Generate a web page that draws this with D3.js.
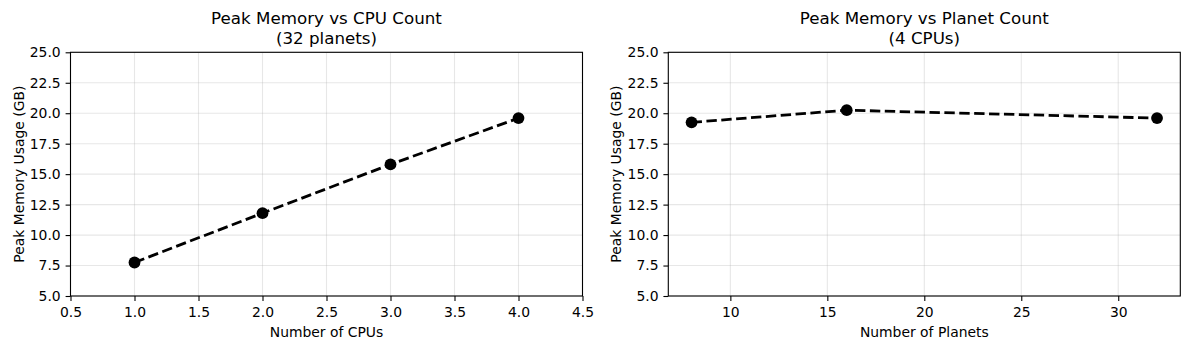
<!DOCTYPE html>
<html>
<head>
<meta charset="utf-8">
<script src="https://cdn.jsdelivr.net/npm/d3@7"></script>
<style>
  body { margin: 0; background: #fff; }
  text { font-family: "DejaVu Sans", sans-serif; fill: #000; }
</style>
</head>
<body>
<div id="canvas"></div>
<script>
"use strict"

// data
let cpuCounts = [1, 2, 3, 4]
let cpuMemory = [7.75, 11.8, 15.8, 19.6]
let planetCounts = [8, 16, 32]
let planetMemory = [19.25, 20.25, 19.6]
let cpuTicks = [0.5, 1.0, 1.5, 2.0, 2.5, 3.0, 3.5, 4.0, 4.5]
let planetTicks = [10, 15, 20, 25, 30]
let memoryTicks = [5, 7.5, 10, 12.5, 15, 17.5, 20, 22.5, 25]

let drawing = d3.select("#canvas")
    .append("svg")
    .attr("width", 1190)
    .attr("height", 349)

let plotTop = 52.3, plotBottom = 296

/* one panel = one axes, like matplotlib subplots */
function panel(opts) {
    let x = d3.scaleLinear().domain(opts.xDomain).range([opts.left, opts.right])
    let y = d3.scaleLinear().domain([5, 25]).range([plotBottom, plotTop])
    let g = drawing.append("g")

    // grid
    g.selectAll(".gx").data(opts.xTicks).enter().append("line")
        .attr("x1", d => x(d)).attr("x2", d => x(d))
        .attr("y1", plotTop).attr("y2", plotBottom)
        .attr("stroke", "#b0b0b0").attr("stroke-opacity", 0.3).attr("stroke-width", 1.1)
    g.selectAll(".gy").data(memoryTicks).enter().append("line")
        .attr("x1", opts.left).attr("x2", opts.right)
        .attr("y1", d => y(d)).attr("y2", d => y(d))
        .attr("stroke", "#b0b0b0").attr("stroke-opacity", 0.3).attr("stroke-width", 1.1)

    // axes
    let xAxis = g.append("g")
        .attr("transform", "translate(0," + plotBottom + ")")
        .call(d3.axisBottom(x).tickValues(opts.xTicks).tickFormat(opts.xFormat)
              .tickSize(4.9).tickPadding(6.4))
    let yAxis = g.append("g")
        .attr("transform", "translate(" + opts.left + ",0)")
        .call(d3.axisLeft(y).tickValues(memoryTicks).tickFormat(d3.format(".1f"))
              .tickSize(4.9).tickPadding(4.9))
    for (let a of [xAxis, yAxis]) {
        a.select(".domain").remove()
        a.selectAll(".tick line").attr("stroke", "#000").attr("stroke-width", 1.1)
        a.selectAll(".tick text").attr("font-size", 13.9).attr("font-family", "DejaVu Sans")
    }

    // frame
    g.append("rect")
        .attr("x", opts.left).attr("y", plotTop)
        .attr("width", opts.right - opts.left).attr("height", plotBottom - plotTop)
        .attr("fill", "none").attr("stroke", "#000").attr("stroke-width", 1.1)

    // dashed line + markers
    let pts = opts.xs.map((d, i) => [d, opts.ys[i]])
    g.append("path")
        .attr("d", d3.line().x(d => x(d[0])).y(d => y(d[1]))(pts))
        .attr("fill", "none").attr("stroke", "#000")
        .attr("stroke-width", 2.8).attr("stroke-dasharray", "10.4,4.5")
    g.selectAll(".dot").data(pts).enter().append("circle")
        .attr("cx", d => x(d[0])).attr("cy", d => y(d[1]))
        .attr("r", 5.9).attr("fill", "#000")

    // titles and labels
    let cx = (opts.left + opts.right) / 2
    g.append("text").attr("x", cx).attr("y", 24).attr("text-anchor", "middle")
        .attr("font-size", 16.7).text(opts.title[0])
    g.append("text").attr("x", cx).attr("y", 44).attr("text-anchor", "middle")
        .attr("font-size", 16.7).text(opts.title[1])
    g.append("text").attr("x", cx).attr("y", 336.5).attr("text-anchor", "middle")
        .attr("font-size", 13.9).text(opts.xLabel)
    g.append("text")
        .attr("transform", "translate(" + (opts.left - 47) + "," + ((plotTop + plotBottom) / 2) + ") rotate(-90)")
        .attr("text-anchor", "middle")
        .attr("font-size", 13.9).text("Peak Memory Usage (GB)")
}

panel({
    left: 70.5, right: 582.5,
    xDomain: [0.5, 4.5], xTicks: cpuTicks, xFormat: d3.format(".1f"),
    xs: cpuCounts, ys: cpuMemory,
    title: ["Peak Memory vs CPU Count", "(32 planets)"],
    xLabel: "Number of CPUs"
})

panel({
    left: 668.3, right: 1180.3,
    xDomain: [6.8, 33.2], xTicks: planetTicks, xFormat: d3.format("d"),
    xs: planetCounts, ys: planetMemory,
    title: ["Peak Memory vs Planet Count", "(4 CPUs)"],
    xLabel: "Number of Planets"
})
</script>
</body>
</html>
